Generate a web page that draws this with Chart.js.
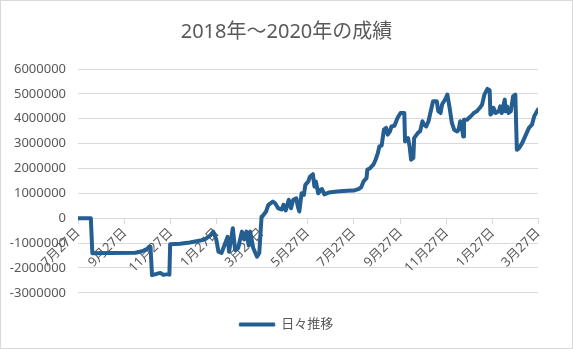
<!DOCTYPE html>
<html lang="ja">
<head>
<meta charset="utf-8">
<title>2018年～2020年の成績</title>
<script src="https://cdn.jsdelivr.net/npm/chart.js@4.4.1/dist/chart.umd.min.js"></script>
<style>
    body { margin: 0; background: #fff; }
    #chart { display: block; }
</style>
</head>
<body>
<canvas id="chart" width="573" height="349"></canvas>
<script>
// days counted from 2018-07-27
const dayOffsets = [
    0, 17, 19, 42, 76, 85, 91, 94, 96, 98, 103, 109, 113, 119, 121, 122,
    135, 148, 162, 168, 175, 179, 183, 186, 190, 195, 198, 200, 205, 208, 212, 217,
    220, 223, 226, 228, 232, 237, 240, 243, 244, 249, 252, 258, 261, 265, 270, 272,
    275, 279, 282, 285, 289, 291, 293, 296, 299, 301, 305, 307, 311, 313, 315, 318,
    321, 323, 326, 332, 343, 356, 365, 372, 375, 378, 382, 383, 387, 391, 394, 397,
    399, 402, 405, 408, 410, 413, 415, 419, 423, 427, 432, 433, 437, 439, 441, 444,
    445, 450, 453, 456, 458, 461, 464, 467, 470, 475, 477, 480, 482, 486, 489, 492,
    495, 498, 502, 504, 506, 508, 510, 511, 515, 520, 524, 528, 532, 535, 538, 542,
    545, 546, 548, 550, 553, 557, 559, 561, 565, 566, 568, 570, 573, 576, 579, 581,
    584, 588, 592, 597, 601, 604, 609
];
const dailyTotals = [
    0, 0, -1410000, -1400000, -1390000, -1330000, -1250000, -1150000, -1150000, -2290000, -2250000, -2200000, -2280000, -2250000, -2270000, -1050000,
    -1030000, -980000, -900000, -850000, -700000, -540000, -850000, -1350000, -1400000, -1000000, -750000, -1350000, -400000, -1280000, -1200000, -540000,
    -850000, -540000, -1100000, -540000, -1200000, -1550000, -1400000, 60000, 70000, 270000, 540000, 670000, 600000, 400000, 350000, 540000,
    310000, 740000, 400000, 740000, 800000, 470000, 270000, 1000000, 940000, 1340000, 1480000, 1670000, 1770000, 1270000, 1470000, 1000000,
    1140000, 1170000, 960000, 1030000, 1070000, 1100000, 1110000, 1180000, 1250000, 1480000, 1610000, 1950000, 2020000, 2150000, 2350000, 2620000,
    2890000, 2920000, 3560000, 3630000, 3360000, 3490000, 3690000, 3720000, 4030000, 4230000, 4230000, 3090000, 3220000, 2890000, 2350000, 2420000,
    3220000, 3430000, 3500000, 3900000, 3760000, 3690000, 3900000, 4300000, 4700000, 4700000, 4300000, 4230000, 4570000, 4770000, 4970000, 4440000,
    3830000, 3560000, 3490000, 3560000, 3900000, 3700000, 3290000, 3960000, 3960000, 4100000, 4230000, 4300000, 4440000, 4570000, 4970000, 5200000,
    5150000, 4170000, 4230000, 4440000, 4230000, 4300000, 4500000, 4230000, 4770000, 4300000, 4500000, 4230000, 4300000, 4900000, 4970000, 2750000,
    2820000, 3020000, 3290000, 3630000, 3760000, 4100000, 4370000
];
const tickDays = [0, 62, 123, 184, 243, 304, 365, 427, 488, 549, 609];
const tickLabels = ['7月27日', '9月27日', '11月27日', '1月27日', '3月27日', '5月27日', '7月27日', '9月27日', '11月27日', '1月27日', '3月27日'];

const textColor = '#595959';
const gridColor = '#d9d9d9';
const fontFamily = "'Noto Sans', 'Noto Sans CJK JP', sans-serif";

const frame = {
    id: 'frame',
    afterDraw(chart) {
        const ctx = chart.ctx;
        ctx.save();
        ctx.strokeStyle = gridColor;
        ctx.lineWidth = 1;
        ctx.strokeRect(0.5, 0.5, chart.width - 1, chart.height - 1);
        ctx.restore();
    }
};

new Chart(document.getElementById('chart'), {
    type: 'line',
    data: {
        datasets: [{
            label: '日々推移',
            data: dayOffsets.map((d, i) => ({ x: d, y: dailyTotals[i] })),
            borderColor: '#255e91',
            backgroundColor: '#255e91',
            borderWidth: 4,
            borderJoinStyle: 'round',
            borderCapStyle: 'round',
            pointRadius: 0,
            tension: 0
        }]
    },
    options: {
        responsive: false,
        animation: false,
        devicePixelRatio: 1,
        layout: { padding: { left: 0, right: 0, top: 0, bottom: 8 } },
        scales: {
            x: {
                type: 'linear',
                position: { y: 0 },
                min: 0,
                max: 609,
                afterBuildTicks: scale => {
                    scale.ticks = tickDays.map(v => ({ value: v }));
                },
                ticks: {
                    autoSkip: false,
                    minRotation: 45,
                    maxRotation: 45,
                    padding: 2,
                    color: textColor,
                    font: { family: fontFamily, size: 13 },
                    callback: value => tickLabels[tickDays.indexOf(value)]
                },
                grid: { drawOnChartArea: false, drawTicks: true, tickLength: 5, color: gridColor },
                border: { display: true, color: gridColor }
            },
            y: {
                min: -3000000,
                max: 6000000,
                afterFit: scale => { scale.width = 78; },
                ticks: {
                    stepSize: 1000000,
                    padding: 12,
                    color: textColor,
                    font: { family: fontFamily, size: 13 },
                    callback: value => String(value)
                },
                grid: { color: gridColor, drawTicks: false },
                border: { display: false }
            },
            // empty right axis only reserves the blank strip right of the plot
            spacer: {
                position: 'right',
                afterFit: scale => { scale.width = 35; },
                ticks: { display: false },
                grid: { display: false },
                border: { display: false }
            }
        },
        plugins: {
            title: {
                display: true,
                text: '2018年～2020年の成績',
                color: textColor,
                font: { family: fontFamily, size: 20, weight: 'normal' },
                padding: { top: 20, bottom: 25 }
            },
            legend: {
                position: 'bottom',
                title: { display: true, text: '', font: { size: 1 }, padding: { top: 14, bottom: 0 } },
                labels: {
                    boxWidth: 35,
                    boxHeight: 3,
                    padding: 10,
                    color: textColor,
                    font: { family: fontFamily, size: 13 },
                    generateLabels: chart => Chart.defaults.plugins.legend.labels.generateLabels(chart)
                        .map(item => ({ ...item, lineWidth: 1 }))
                }
            },
            tooltip: { enabled: false }
        }
    },
    plugins: [frame]
});
</script>
</body>
</html>
